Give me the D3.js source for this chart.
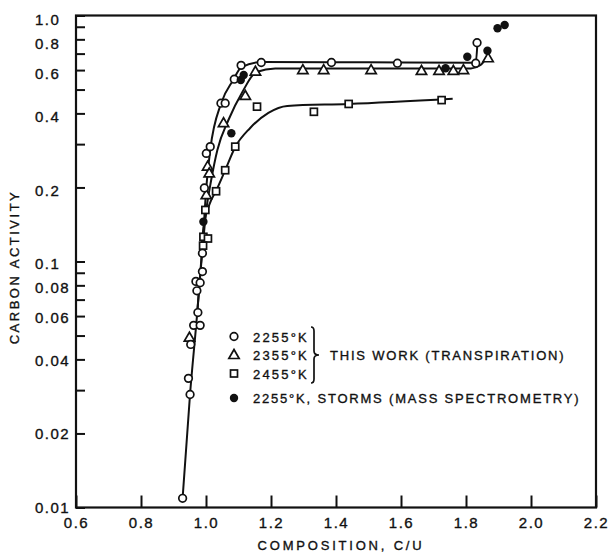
<!DOCTYPE html>
<html>
<head>
<meta charset="utf-8">
<script src="https://cdn.jsdelivr.net/npm/d3@7"></script>
<style>
  body { margin: 0; background: #fff; }
  svg { display: block; font-family: "Liberation Sans", Arial, sans-serif; }
  svg text { fill: #111; stroke: #111; stroke-width: 0.35px; }
  .axis text { font-size: 15px; letter-spacing: 1.5px; }
  .axis line { stroke: #111; stroke-width: 2px; }
  .axis path { display: none; }
</style>
</head>
<body>
<div id="chart"></div>
<script>
// ---- data (C/U composition, carbon activity) ----
var circles2255 = [[0.928,0.0109],[0.946,0.0335],[0.951,0.0288],[0.953,0.046],[0.962,0.055],[0.982,0.055],
    [0.975,0.062],[0.972,0.076],[0.969,0.083],[0.982,0.082],[0.989,0.091],[0.989,0.108],[0.995,0.199],
    [1.001,0.275],[1.013,0.293],[1.046,0.440],[1.059,0.440],[1.087,0.551],[1.108,0.627],[1.170,0.644],
    [1.386,0.644],[1.589,0.640],[1.830,0.640],[1.834,0.775]];
var triangles2355 = [[0.949,0.049],[1.001,0.186],[1.005,0.243],[1.010,0.228],[1.054,0.365],[1.121,0.471],
    [1.152,0.591],[1.298,0.600],[1.362,0.600],[1.508,0.600],[1.663,0.595],[1.717,0.595],[1.761,0.595],
    [1.792,0.600],[1.868,0.670]];
var squares2455 = [[0.992,0.126],[1.006,0.124],[0.991,0.116],[0.998,0.162],[1.031,0.193],[1.059,0.235],
    [1.090,0.293],[1.157,0.426],[1.332,0.406],[1.439,0.437],[1.725,0.453]];
var storms2255 = [[0.992,0.145],[1.078,0.332],[1.107,0.547],[1.116,0.573],[1.737,0.610],[1.804,0.680],
    [1.866,0.719],[1.897,0.887],[1.919,0.915]];

// fitted curves drawn through the points
var curve2255 = [[0.928,0.0109],[0.951,0.029],[0.973,0.0618],[0.991,0.1258],[1.001,0.200],[1.013,0.284],
    [1.047,0.441],[1.084,0.547],[1.109,0.617],[1.173,0.647],[1.500,0.645],[1.830,0.643],[1.835,0.766]];
var curve2355 = [[0.973,0.0618],[0.985,0.0968],[1.001,0.162],[1.016,0.2145],[1.035,0.284],[1.069,0.376],
    [1.112,0.489],[1.155,0.589],[1.213,0.609],[1.500,0.609],[1.815,0.609],[1.845,0.629],[1.867,0.684]];
var curve2455 = [[0.987,0.120],[0.995,0.145],[1.010,0.170],[1.032,0.195],[1.059,0.235],[1.090,0.292],
    [1.136,0.349],[1.192,0.402],[1.250,0.429],[1.438,0.437],[1.759,0.459]];

var xTicks = [0.6,0.8,1.0,1.2,1.4,1.6,1.8,2.0,2.2];
var yLabelled = [1.0,0.8,0.6,0.4,0.2,0.1,0.08,0.06,0.04,0.02,0.01];
var yMinor = [0.9,0.7,0.5,0.3,0.09,0.07,0.05,0.03];

var legendRows = ["2255\u00b0K", "2355\u00b0K", "2455\u00b0K"];
var legendGroupText = "THIS WORK (TRANSPIRATION)";
var legendStormsText = "2255\u00b0K, STORMS (MASS SPECTROMETRY)";

// ---- layout ----
var width = 609, height = 553;
var plotL = 76, plotR = 596, plotT = 15.5, plotB = 507.5;

var svg = d3.select("#chart").append("svg")
    .attr("width", width)
    .attr("height", height);

var x = d3.scaleLinear().domain([0.6, 2.2]).range([plotL, plotR]);
var y = d3.scaleLog().domain([0.01, 1.0]).range([plotB, plotT]);

// axes, ticks pointing inward
var xAxis = d3.axisBottom(x)
    .tickValues(xTicks)
    .tickFormat(d3.format(".1f"))
    .tickSizeInner(-12)
    .tickSizeOuter(0)
    .tickPadding(10);
svg.append("g")
    .attr("class", "axis")
    .attr("transform", "translate(0," + plotB + ")")
    .call(xAxis);

var yAxis = d3.axisLeft(y)
    .tickValues(yLabelled.concat(yMinor))
    .tickFormat(function(d){
        if (yLabelled.indexOf(d) < 0) return "";
        return d == 1 ? "1.0" : String(d);
    })
    .tickSizeInner(-9)
    .tickSizeOuter(0)
    .tickPadding(14);
var gy = svg.append("g")
    .attr("class", "axis")
    .attr("transform", "translate(" + plotL + ",0)")
    .call(yAxis);
// labels are lettered flush-left in the original, slightly low near the top
gy.selectAll(".tick text")
    .attr("text-anchor", "start")
    .attr("x", 35 - plotL)
    .attr("dy", function(d){ return (0.32 * 15 + 4.5 * (plotB - y(d)) / (plotB - plotT)) + "px"; });

svg.append("rect")
    .attr("x", plotL).attr("y", plotT)
    .attr("width", plotR - plotL).attr("height", plotB - plotT)
    .attr("fill", "none")
    .attr("stroke", "#111")
    .attr("stroke-width", 2.2);

// axis titles
svg.append("text")
    .attr("x", 341).attr("y", 550)
    .attr("text-anchor", "middle")
    .style("font-size", "13px")
    .style("letter-spacing", "2.8px")
    .text("COMPOSITION, C/U");

svg.append("text")
    .attr("transform", "translate(19,267) rotate(-90)")
    .attr("text-anchor", "middle")
    .style("font-size", "13px")
    .style("letter-spacing", "2.5px")
    .text("CARBON ACTIVITY");

// curves
var line = d3.line()
    .x(function(d){ return x(d[0]); })
    .y(function(d){ return y(d[1]); })
    .curve(d3.curveMonotoneX);

[curve2255, curve2355, curve2455].forEach(function(c){
    svg.append("path")
        .datum(c)
        .attr("d", line)
        .attr("fill", "none")
        .attr("stroke", "#111")
        .attr("stroke-width", 2);
});

// markers
function drawMarker(g, type, cx, cy) {
    if (type === "circle") {
        g.append("circle").attr("cx", cx).attr("cy", cy).attr("r", 3.8)
            .attr("fill", "#fff").attr("stroke", "#111").attr("stroke-width", 1.7);
    } else if (type === "filled") {
        g.append("circle").attr("cx", cx).attr("cy", cy).attr("r", 4.2)
            .attr("fill", "#111");
    } else if (type === "square") {
        g.append("rect").attr("x", cx - 3.5).attr("y", cy - 3.5)
            .attr("width", 7).attr("height", 7)
            .attr("fill", "#fff").attr("stroke", "#111").attr("stroke-width", 1.7);
    } else {
        g.append("path")
            .attr("d", d3.symbol().type(d3.symbolTriangle).size(46)())
            .attr("transform", "translate(" + cx + "," + (cy + 0.5) + ")")
            .attr("fill", "#fff").attr("stroke", "#111").attr("stroke-width", 1.7);
    }
}

var marks = svg.append("g");
squares2455.forEach(function(d){ drawMarker(marks, "square", x(d[0]), y(d[1])); });
triangles2355.forEach(function(d){ drawMarker(marks, "triangle", x(d[0]), y(d[1])); });
circles2255.forEach(function(d){ drawMarker(marks, "circle", x(d[0]), y(d[1])); });
storms2255.forEach(function(d){ drawMarker(marks, "filled", x(d[0]), y(d[1])); });

// legend
var legend = svg.append("g").style("font-size", "13px").style("letter-spacing", "2.2px");
var rowY = [336.5, 355, 373.5, 398];
var types = ["circle", "triangle", "square"];
legendRows.forEach(function(t, i){
    drawMarker(legend, types[i], 234, rowY[i]);
    legend.append("text").attr("x", 253).attr("y", rowY[i] + 5).text(t);
});
drawMarker(legend, "filled", 234, rowY[3]);
legend.append("text").attr("x", 253).attr("y", rowY[3] + 5)
    .style("letter-spacing", "1.8px")
    .text(legendStormsText);

// brace joining the three rows
var bx = 314, bTop = 327, bBot = 383, bMid = (bTop + bBot) / 2;
legend.append("path")
    .attr("d", "M" + (bx - 3) + "," + bTop +
        " Q" + bx + "," + bTop + " " + bx + "," + (bTop + 4) +
        " L" + bx + "," + (bMid - 4) +
        " Q" + bx + "," + bMid + " " + (bx + 5) + "," + bMid +
        " Q" + bx + "," + bMid + " " + bx + "," + (bMid + 4) +
        " L" + bx + "," + (bBot - 4) +
        " Q" + bx + "," + bBot + " " + (bx - 3) + "," + bBot)
    .attr("fill", "none")
    .attr("stroke", "#111")
    .attr("stroke-width", 1.7);
legend.append("text").attr("x", 330).attr("y", bMid + 5)
    .style("letter-spacing", "1.8px")
    .text(legendGroupText);
</script>
</body>
</html>
